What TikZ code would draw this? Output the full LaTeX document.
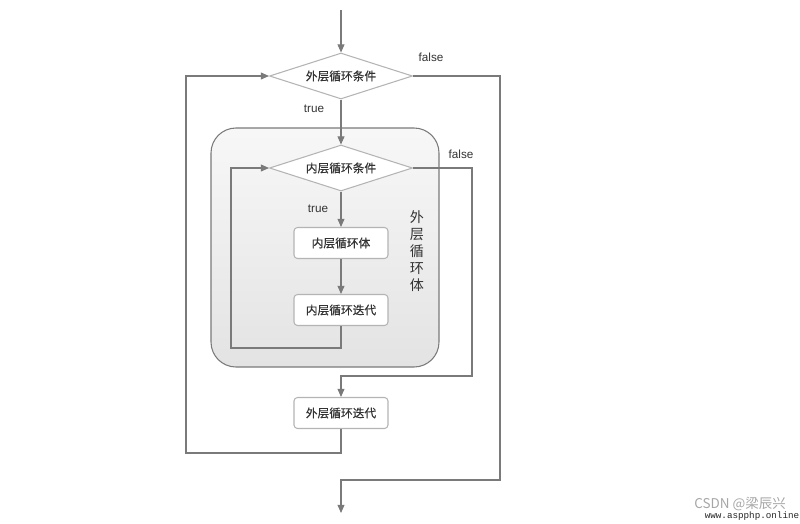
\documentclass[tikz,border=0pt]{standalone}
\usepackage{fontspec}
\setmainfont{Liberation Sans}
\setmonofont{Liberation Mono}
\newfontfamily\cjk[FakeBold=0.5]{Noto Sans CJK SC}
\newfontfamily\cjkmark{Noto Sans CJK SC}
\usetikzlibrary{shapes.geometric,arrows.meta}
\definecolor{linegray}{HTML}{7A7A7A}
\definecolor{boxgray}{HTML}{B4B4B4}
\definecolor{txtgray}{HTML}{333333}
\tikzset{
  arr/.style={draw=linegray, line width=0.9pt, -{Triangle[width=6pt,length=7pt]}},
  conn/.style={draw=linegray, line width=0.9pt},
  cond/.style={diamond, aspect=3.1, draw=boxgray, line width=0.9pt, fill=white,
    minimum width=4.29cm, minimum height=1.38cm, inner sep=0pt,
    font=\cjk\fontsize{10}{12}\selectfont, text=txtgray},
  stepbox/.style={rectangle, rounded corners=3pt, draw=boxgray, line width=0.9pt, fill=white,
    minimum width=2.82cm, minimum height=0.93cm, inner sep=0pt,
    font=\cjk\fontsize{10}{12}\selectfont, text=txtgray},
  lbl/.style={font=\fontsize{10}{12}\selectfont, text=txtgray, inner sep=0pt}
}
\begin{document}
\begin{tikzpicture}[x=0.03cm,y=-0.03cm]
            \useasboundingbox (0,0) rectangle (800,523);
            % outer loop body frame
            \node[rectangle, rounded corners=0.75cm, draw=linegray, line width=0.9pt,
                  top color=gray!6, bottom color=gray!22,
                  minimum width=6.84cm, minimum height=7.17cm] (outerbody) at (325,247.5) {};
            \node[font=\cjkmark\fontsize{12}{14.6}\selectfont, text=txtgray, align=center, inner sep=0pt]
                  (outerbodylabel) at (417,251) {外\\层\\循\\环\\体};
            % nodes
            \node[cond] (outercond) at (341,76) {外层循环条件};
            \node[cond] (innercond) at (341,168) {内层循环条件};
            \node[stepbox] (innerbody) at (341,243) {内层循环体};
            \node[stepbox] (inneriter) at (341,310) {内层循环迭代};
            \node[stepbox] (outeriter) at (341,413) {外层循环迭代};
            \coordinate (start) at (341,10);
            \coordinate (stop) at (341,513);
            \coordinate (innerloop) at (231,348);
            \coordinate (innerfalse) at (472,376);
            \coordinate (outerloop) at (186,453);
            \coordinate (outerfalse) at (500,480);
            % connectors
            \draw[arr] (start) -- (outercond);
            \draw[arr] (outercond) -- (innercond);
            \draw[arr] (innercond) -- (innerbody);
            \draw[arr] (innerbody) -- (inneriter);
            \draw[arr] (inneriter.south) |- (innerloop) |- (innercond.west);
            \draw[arr] (innercond.east) -| (innerfalse) -| (outeriter.north);
            \draw[arr] (outeriter.south) |- (outerloop) |- (outercond.west);
            \draw[arr] (outercond.east) -| (outerfalse) -| (stop);
            % labels
            \node[lbl] (outertrue) at (314,109) {true};
            \node[lbl] (innertrue) at (318,209) {true};
            \node[lbl] (outerno) at (431,57) {false};
            \node[lbl] (innerno) at (461,154) {false};
            % watermark
            \node[font=\cjkmark\fontsize{11.5}{13}\selectfont, text=gray!70, inner sep=0pt]
                  (mark) at (740,504) {CSDN @梁辰兴};
            \node[font=\ttfamily\fontsize{7.9}{9}\selectfont, text=black!85, inner sep=0pt]
                  (site) at (752,516) {www.aspphp.online};
        \end{tikzpicture}
\end{document}
